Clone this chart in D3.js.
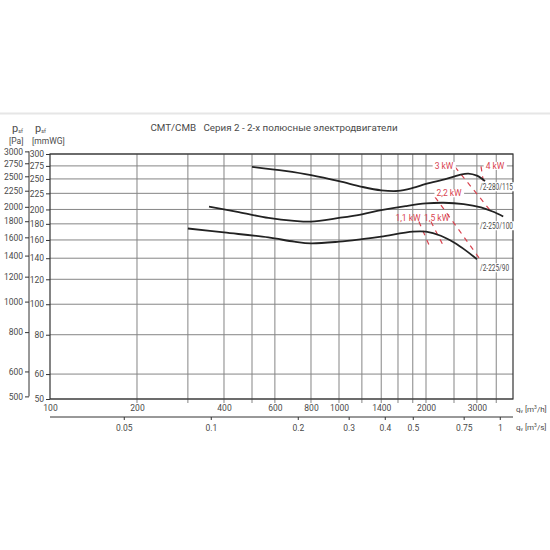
<!DOCTYPE html>
<html>
<head>
<meta charset="utf-8">
<script src="https://cdn.jsdelivr.net/npm/d3@7"></script>
<style>
  body { margin: 0; background: #fff; }
  svg { display: block; font-family: Roboto, 'Noto Sans', sans-serif; }
</style>
</head>
<body>
<div id="chart"></div>
<script>
// data (q in m3/h, p in mmWG)
const curve280 = [[500, 273], [650, 265], [800, 257], [1000, 246], [1200, 236], [1400, 230], [1600, 229], [1800, 234], [2000, 241], [2350, 250], [2600, 257], [2800, 260], [3000, 256], [3200, 246]];
const curve250 = [[355, 204], [450, 196], [570, 188], [700, 184], [800, 183], [1000, 188], [1200, 193], [1400, 199], [1700, 205], [2000, 209], [2300, 210], [2700, 208], [3100, 203], [3400, 197], [3700, 190]];
const curve225 = [[300, 174], [400, 169], [570, 163], [700, 158], [800, 156], [1000, 158], [1200, 161], [1400, 164], [1800, 170], [2000, 170], [2250, 165], [2500, 157], [2750, 148], [3000, 139]];
const curveNames = ['/2-280/115', '/2-250/100', '/2-225/90'];
const curveLabelPos = [[3076, 236], [3076, 177.5], [3076, 130.5]];

const kwLines = [[[1890, 183], [2050, 154]], [[2080, 183], [2290, 154]], [[2150, 219], [3076, 139]], [[2520, 273], [3330, 199]], [[3100, 274], [3190, 232]]];
const kwNames = ['1,1 kW', '1,5 kW', '2,2 kW', '3 kW', '4 kW'];
const kwLabelPos = [[1733, 188], [2176, 188], [2403, 225], [2309, 275], [3466, 275]];
const kwLabelBg = [false, false, true, true, true];

const qGrid = [200, 300, 400, 500, 600, 800, 1000, 1200, 1400, 1600, 1800, 2000, 2500, 3000, 3500];
const qTicks = [100, 200, 400, 600, 800, 1000, 1400, 2000, 3000];
const qsTicks = [0.05, 0.1, 0.2, 0.3, 0.4, 0.5, 0.75, 1];
const mmTicks = [300, 275, 250, 225, 200, 180, 160, 140, 120, 100, 80, 60, 50];
const paTicks = [3000, 2750, 2500, 2250, 2000, 1800, 1600, 1400, 1200, 1000, 800, 600, 500];

const width = 550, height = 550;
const margin = { top: 154, right: 37, bottom: 151, left: 50 };
const red = '#d8434f';
const txt = '#4a4a4a';

const svg = d3.select('#chart').append('svg')
  .attr('width', width)
  .attr('height', height);

const x = d3.scaleLog().domain([100, 4000]).range([margin.left, width - margin.right]);
const y = d3.scaleLog().domain([50, 300]).range([height - margin.bottom, margin.top]);
const yPa = d3.scaleLog().domain([50 * 9.81, 300 * 9.81]).range(y.range());
const xs = d3.scaleLog().domain([100 / 3600, 4000 / 3600]).range(x.range());

// faint top rule
svg.append('line')
  .attr('x1', 0).attr('x2', width).attr('y1', 113.5).attr('y2', 113.5)
  .attr('stroke', '#e6e6e6').attr('stroke-width', 2);

// title
svg.append('text')
  .attr('x', 274).attr('y', 131)
  .attr('text-anchor', 'middle')
  .attr('font-size', 9.8)
  .attr('fill', txt)
  .style('white-space', 'pre')
  .text('CMT/CMB   Серия 2 - 2-х полюсные электродвигатели');

// axis headers
function header(xp, unit) {
  const t = svg.append('text').attr('x', xp).attr('y', 131.5).attr('font-size', 11).attr('fill', txt);
  t.append('tspan').text('p');
  t.append('tspan').attr('font-size', 5.5).attr('dy', 1).text('sf');
  svg.append('text').attr('x', xp - 3).attr('y', 143.5).attr('font-size', 8.5).attr('fill', txt).text(unit);
}
header(12, '[Pa]');
header(35, '[mmWG]');

// grid
const grid = svg.append('g').attr('stroke', '#858585').attr('stroke-width', 1);
grid.selectAll('.vg').data(qGrid).enter().append('line')
  .attr('x1', d => x(d)).attr('x2', d => x(d))
  .attr('y1', y(300)).attr('y2', y(50) + 4);
grid.selectAll('.hg').data(mmTicks).enter().append('line')
  .attr('x1', x(100)).attr('x2', x(4000))
  .attr('y1', d => y(d)).attr('y2', d => y(d));

// frame
svg.append('rect')
  .attr('x', x(100)).attr('y', y(300))
  .attr('width', x(4000) - x(100)).attr('height', y(50) - y(300))
  .attr('fill', 'none').attr('stroke', '#333').attr('stroke-width', 1.2);

// mmWG axis
const mmAxis = svg.append('g')
  .attr('transform', 'translate(' + x(100) + ',0)')
  .call(d3.axisLeft(y).tickValues(mmTicks).tickSize(4).tickPadding(2).tickFormat(d3.format('d')));
mmAxis.select('.domain').remove();

// Pa axis
const paAxis = svg.append('g')
  .attr('transform', 'translate(29,0)')
  .call(d3.axisLeft(yPa).tickValues(paTicks).tickSize(4).tickPadding(2).tickFormat(d3.format('d')));
paAxis.select('.domain').attr('d', 'M0,' + yPa(3000) + 'V' + yPa(500));

// q m3/h labels
const qAxis = svg.append('g')
  .attr('transform', 'translate(0,' + y(50) + ')')
  .call(d3.axisBottom(x).tickValues(qTicks).tickSize(0).tickPadding(6).tickFormat(d3.format('d')));
qAxis.select('.domain').remove();

// q m3/s axis
const qsAxis = svg.append('g')
  .attr('transform', 'translate(0,417)')
  .call(d3.axisBottom(xs).tickValues(qsTicks).tickSize(3).tickPadding(5).tickFormat(d => d));
qsAxis.select('.domain').attr('d', 'M' + x(100) + ',0H' + x(4000));

svg.selectAll('.tick text').attr('font-size', 8.5).attr('fill', txt)
  .attr('font-family', 'Roboto, sans-serif');
svg.selectAll('.tick line').attr('stroke', '#333');
svg.selectAll('.domain').attr('stroke', '#333');

// axis unit labels
function unitLabel(yp, unit) {
  const t = svg.append('text').attr('x', 516).attr('y', yp).attr('font-size', 8).attr('fill', txt);
  t.append('tspan').text('q');
  t.append('tspan').attr('font-size', 5).attr('dy', 1).text('v');
  t.append('tspan').attr('dy', -1).text(' [m');
  t.append('tspan').attr('font-size', 5).attr('dy', -3).text('3');
  t.append('tspan').attr('dy', 3).text(unit + ']');
}
unitLabel(412, '/h');
unitLabel(430, '/s');

// kW lines
const line = d3.line().x(d => x(d[0])).y(d => y(d[1]));
svg.append('g').selectAll('path').data(kwLines).enter().append('path')
  .attr('d', line)
  .attr('fill', 'none').attr('stroke', red).attr('stroke-width', 1.2)
  .attr('stroke-dasharray', '5,5');

// kW labels
kwNames.forEach((name, i) => {
  const g = svg.append('g');
  const t = g.append('text')
    .attr('x', x(kwLabelPos[i][0])).attr('y', y(kwLabelPos[i][1]) + 3)
    .attr('text-anchor', 'middle').attr('font-size', 8.5).attr('fill', red)
    .text(name);
  if (kwLabelBg[i]) {
    const b = t.node().getBBox();
    g.insert('rect', 'text').attr('x', b.x - 2).attr('y', b.y + 1).attr('width', b.width + 4).attr('height', b.height - 2).attr('fill', '#fff');
  }
});

// curve labels
curveNames.forEach((name, i) => {
  const g = svg.append('g');
  const t = g.append('text')
    .attr('x', x(curveLabelPos[i][0])).attr('y', y(curveLabelPos[i][1]) + 3.5)
    .attr('font-size', 9.5).attr('fill', txt)
    .attr('textLength', name.length > 9 ? 33 : 29).attr('lengthAdjust', 'spacingAndGlyphs')
    .text(name);
  const b = t.node().getBBox();
  g.insert('rect', 'text').attr('x', b.x - 1).attr('y', b.y + 1).attr('width', b.width + 2).attr('height', b.height - 2).attr('fill', '#fff');
});

// fan curves
const curveLine = d3.line().x(d => x(d[0])).y(d => y(d[1])).curve(d3.curveCatmullRom.alpha(0.5));
svg.append('g').selectAll('path').data([curve280, curve250, curve225]).enter().append('path')
  .attr('d', curveLine)
  .attr('fill', 'none').attr('stroke', '#222').attr('stroke-width', 1.8);
</script>
</body>
</html>
